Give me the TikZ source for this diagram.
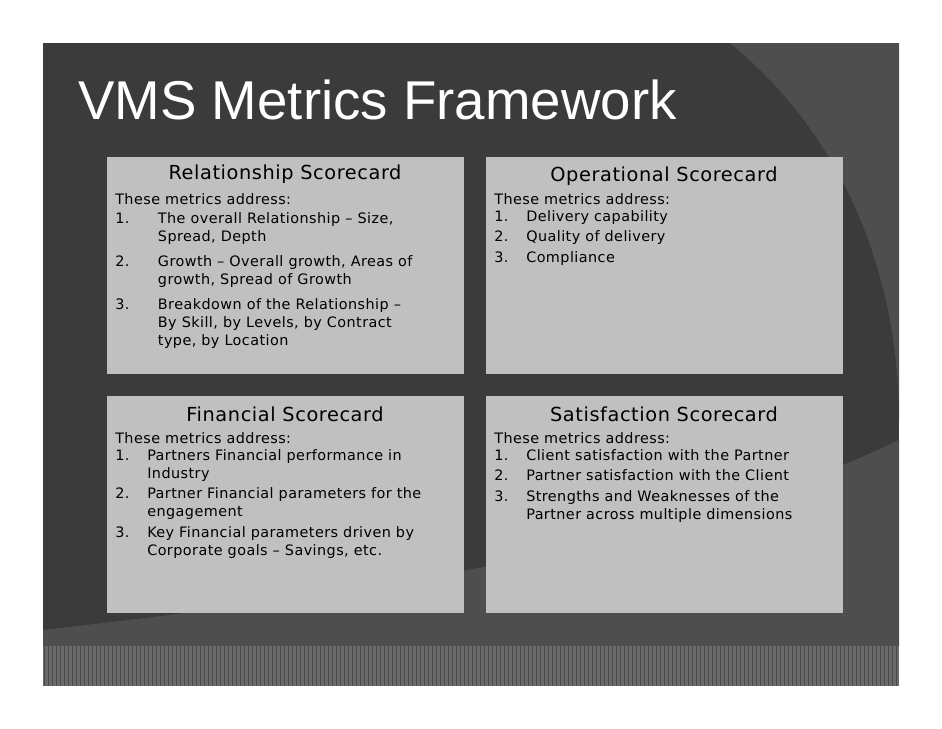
\documentclass[tikz,border=0pt]{standalone}
\usepackage{fontspec}
\setmainfont{DejaVu Sans}[LetterSpace=3]
\newfontfamily\titlefont{Liberation Sans}
\usetikzlibrary{positioning}
\definecolor{slidebg}{HTML}{3B3B3B}
\definecolor{arcgray}{HTML}{4E4E4E}
\definecolor{bandgray}{HTML}{6A6A6A}
\definecolor{cardgray}{HTML}{C0C0C0}
\begin{document}
\begin{tikzpicture}[x=0.75pt,y=-0.75pt, every node/.style={inner sep=0pt},
    card/.style={rectangle, fill=cardgray, minimum width=267.75pt, minimum height=162.75pt, anchor=north west},
    cardhead/.style={font=\fontsize{14.5}{18}\selectfont, text=black},
    cardbody/.style={font=\fontsize{10.8}{13.5}\selectfont, text=black, anchor=north west, align=left}]
    \useasboundingbox (0,0) rectangle (942,728);
    % slide background
    \fill[slidebg] (43,43) rectangle (899,686);
    \fill[arcgray] (730,43) .. controls (860,150) and (899,300) .. (899,420) -- (899,43) -- cycle;
    \fill[arcgray] (43,630) .. controls (300,600) and (650,560) .. (899,440) -- (899,646) -- (43,646) -- cycle;
    \fill[bandgray] (43,646) rectangle (899,686);
    \draw[slidebg!70!bandgray, line width=0.4pt, step=4] (43,646) grid (899,686);
    % title
    \node[anchor=west, text=white, font=\titlefont\fontsize{41}{46}\selectfont] (title) at (78,100) {VMS Metrics Framework};
    % cards
    \node[card] (rel) at (107,157) {};
    \node[card] (ops) at (486,157) {};
    \node[card] (fin) at (107,396) {};
    \node[card] (sat) at (486,396) {};
    \node[cardhead] (relhead) at (285,174) {Relationship Scorecard};
    \node[cardhead] (opshead) at (664,176) {Operational Scorecard};
    \node[cardhead] (finhead) at (285,414) {Financial Scorecard};
    \node[cardhead] (sathead) at (664,414) {Satisfaction Scorecard};
    \node[cardbody] (relbody) at (115,193) {These metrics address:\\[4pt]
      \begin{tabular}{@{}p{32pt}@{}p{225pt}@{}}
      1. & The overall Relationship -- Size,\\ & Spread, Depth\\[5pt]
      2. & Growth -- Overall growth, Areas of\\ & growth, Spread of Growth\\[5pt]
      3. & Breakdown of the Relationship --\\ & By Skill, by Levels, by Contract\\ & type, by Location
      \end{tabular}};
    \node[cardbody] (opsbody) at (494,193) {These metrics address:\\[2pt]
      \begin{tabular}{@{}p{24pt}@{}p{230pt}@{}}
      1. & Delivery capability\\[2pt]
      2. & Quality of delivery\\[2pt]
      3. & Compliance
      \end{tabular}};
    \node[cardbody] (finbody) at (115,432) {These metrics address:\\[2pt]
      \begin{tabular}{@{}p{24pt}@{}p{235pt}@{}}
      1. & Partners Financial performance in\\ & Industry\\[2pt]
      2. & Partner Financial parameters for the\\ & engagement\\[2pt]
      3. & Key Financial parameters driven by\\ & Corporate goals -- Savings, etc.
      \end{tabular}};
    \node[cardbody] (satbody) at (494,432) {These metrics address:\\[2pt]
      \begin{tabular}{@{}p{24pt}@{}p{240pt}@{}}
      1. & Client satisfaction with the Partner\\[2pt]
      2. & Partner satisfaction with the Client\\[2pt]
      3. & Strengths and Weaknesses of the\\ & Partner across multiple dimensions
      \end{tabular}};
\end{tikzpicture}
\end{document}
